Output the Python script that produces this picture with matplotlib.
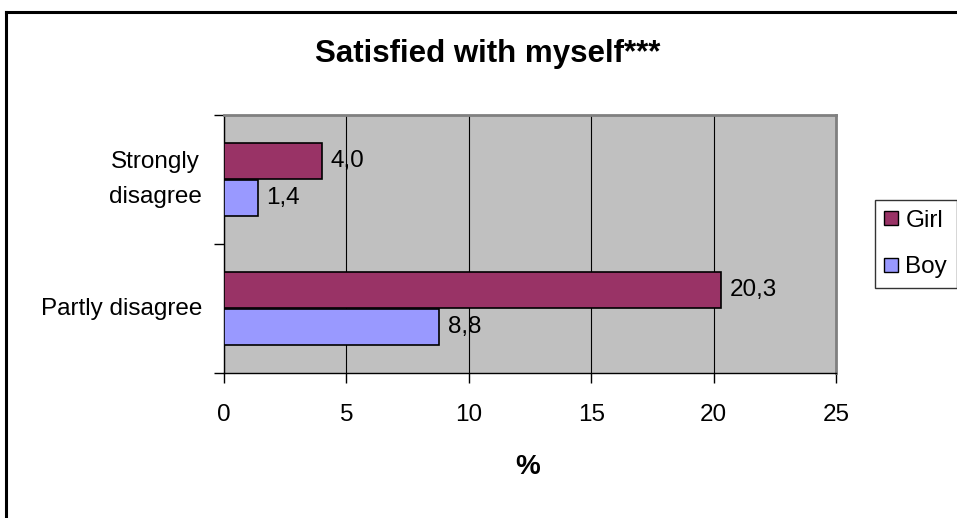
import matplotlib.pyplot as plt
from matplotlib.lines import Line2D
from matplotlib.transforms import blended_transform_factory

plt.rcParams['font.family'] = ['Liberation Sans', 'DejaVu Sans']

# dane
categories = ["Partly disagree", "Strongly\ndisagree"]
girl = [20.3, 4.0]
boy = [8.8, 1.4]
series_names = ["Girl", "Boy"]
xticks = [0, 5, 10, 15, 20, 25]

girl_color = "#993366"
boy_color = "#9999FF"
fs = 17.5

fig = plt.figure(figsize=(9.57, 5.18), dpi=100)
ax = fig.add_axes([224 / 957, 1 - 373 / 518, 612 / 957, 258 / 518])
ax.set_facecolor("#C0C0C0")

pos = list(range(len(categories)))
h = 0.28
off = 0.145
b1 = ax.barh([p + off for p in pos], girl, height=h, color=girl_color,
             edgecolor="black", linewidth=1.2, label=series_names[0], zorder=3)
b2 = ax.barh([p - off for p in pos], boy, height=h, color=boy_color,
             edgecolor="black", linewidth=1.2, label=series_names[1], zorder=3)

# etykiety wartości z przecinkiem
for bars, vals in ((b1, girl), (b2, boy)):
    for bar, v in zip(bars, vals):
        ax.annotate(f"{v:.1f}".replace(".", ","),
                    (v, bar.get_y() + bar.get_height() / 2),
                    xytext=(6, 0), textcoords="offset points",
                    va="center", ha="left", fontsize=fs, zorder=4)

ax.set_xlim(0, 25)
ax.set_ylim(-0.5, len(categories) - 0.5)
ax.set_xticks(xticks)
ax.set_xticklabels([str(t) for t in xticks], fontsize=fs)
ax.tick_params(axis="x", length=7, width=1, pad=15.5, direction="out")
ax.xaxis.grid(True, color="black", linewidth=0.8, zorder=1)
ax.set_axisbelow(True)

# etykiety kategorii rysowane ręcznie
ax.set_yticks([])
trans = blended_transform_factory(ax.transAxes, ax.transData)
for p, cat in zip(pos, categories):
    ax.text(-0.036, p, cat, transform=trans, ha="right", va="center",
            fontsize=fs, multialignment="center", linespacing=1.75)
ax.set_yticks([p - 0.5 for p in range(len(categories) + 1)], minor=True)
ax.tick_params(axis="y", which="minor", length=7, width=1, direction="out")

for s in ("top", "right"):
    ax.spines[s].set_color("#808080")
    ax.spines[s].set_linewidth(2)
for s in ("left", "bottom"):
    ax.spines[s].set_color("black")
    ax.spines[s].set_linewidth(1)

fig.text(528 / 957, 1 - 467 / 518, "%", ha="center", va="center",
         fontsize=20, fontweight="bold")

fig.text(488 / 957, 1 - 54 / 518, "Satisfied with myself***", ha="center",
         va="center", fontsize=22.5, fontweight="bold")

handles = [Line2D([], [], marker="s", linestyle="", markersize=10,
                  markerfacecolor=c, markeredgecolor="black")
           for c in (girl_color, boy_color)]
leg = fig.legend(handles, series_names, loc="upper left",
                 bbox_to_anchor=(875 / 957, 1 - 200 / 518), fontsize=fs,
                 frameon=True, fancybox=False, handlelength=0.5,
                 handletextpad=0.35, borderpad=0.4, labelspacing=1.0,
                 borderaxespad=0)
leg.get_frame().set_edgecolor("black")
leg.get_frame().set_linewidth(1)

# ramka wykresu (prawa i dolna krawędź poza obrazkiem)
fig.add_artist(Line2D([6 / 957, 1.0], [1 - 12 / 518] * 2, color="black",
                      linewidth=2.2, transform=fig.transFigure))
fig.add_artist(Line2D([6 / 957] * 2, [0.0, 1 - 12 / 518], color="black",
                      linewidth=2.2, transform=fig.transFigure))

fig.savefig("out.png", dpi=100)
